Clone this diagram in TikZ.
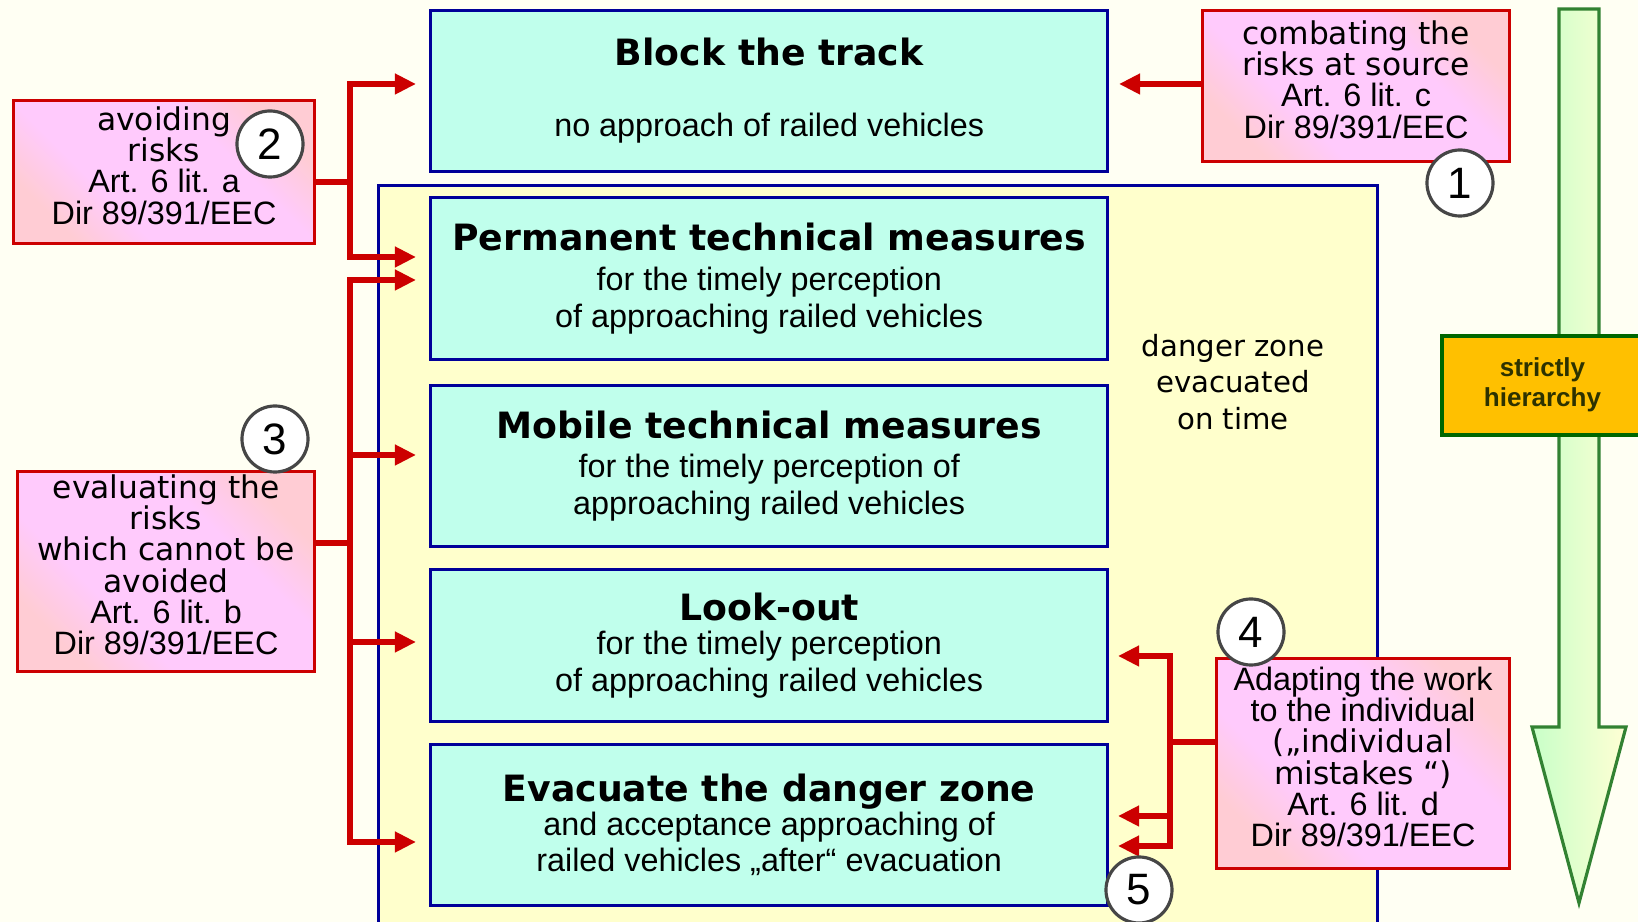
\documentclass[tikz,border=0pt]{standalone}
\usepackage{fontspec}
\setmainfont{Liberation Sans}
\newfontfamily\verd{DejaVu Sans}
\usepackage{tikz}
\usetikzlibrary{arrows.meta}
\definecolor{pagebg}{RGB}{255,255,243}
\definecolor{boxblue}{RGB}{0,0,153}
\definecolor{boxcyan}{RGB}{192,255,236}
\definecolor{zoneyellow}{RGB}{255,255,204}
\definecolor{riskred}{RGB}{204,0,0}
\definecolor{riskpink}{RGB}{255,202,252}
\definecolor{risksalmon}{RGB}{255,204,212}
\definecolor{circgray}{RGB}{70,70,70}
\definecolor{hierorange}{RGB}{255,192,0}
\definecolor{hiergreen}{RGB}{0,102,0}
\definecolor{hiertext}{RGB}{45,50,0}
\definecolor{arrowgreen}{RGB}{50,130,50}
\definecolor{arrowleft}{RGB}{200,255,200}
\definecolor{arrowright}{RGB}{255,255,212}
\pgfdeclarehorizontalshading{riskshade}{100bp}{color(0bp)=(risksalmon); color(25bp)=(risksalmon); color(37bp)=(riskpink); color(63bp)=(riskpink); color(75bp)=(risksalmon); color(100bp)=(risksalmon)}
\newcommand{\boxtitle}[1]{{\verd\bfseries\fontsize{10.3}{12}\selectfont #1}}
\newcommand{\vl}[1]{{\verd\fontsize{8.9}{8.9}\selectfont #1}}
\newcommand{\riskfont}{\fontsize{9.2}{8.9}\selectfont\lineskiplimit=-10pt\relax}
\tikzstyle{zonebox} = [draw=boxblue, line width=0.85pt, fill=zoneyellow, anchor=north west, minimum width=9.98cm, minimum height=8cm, inner sep=0pt]
\tikzstyle{bluebox} = [draw=boxblue, line width=0.85pt, fill=boxcyan, anchor=north west, minimum width=6.77cm, inner sep=0pt, align=center, font=\fontsize{9.2}{10.4}\selectfont]
\tikzstyle{riskbox} = [draw=riskred, line width=0.85pt, shade, shading=riskshade, shading angle=45, anchor=north west, inner sep=0pt, text depth=3.9pt, align=center, font=\riskfont]
\tikzstyle{numcirc} = [circle, draw=circgray, line width=0.9pt, fill=white, minimum size=0.66cm, inner sep=0pt, font=\fontsize{12.5}{12.5}\selectfont]
\tikzstyle{redline} = [riskred, line width=1.9pt]
\tikzstyle{redarrow} = [redline, -{Triangle[length=6pt,width=5.6pt]}]

\begin{document}
\begin{tikzpicture}[x=0.01cm, y=-0.01cm]
      \useasboundingbox (0,0) rectangle (1638,922);
      \fill[pagebg] (0,0) rectangle (1638,922);
      \clip (0,0) rectangle (1638,922);
      %%%%%%%%%%%%%%%%%%%%%%%%%%%%%%%%%%%%%%%
      \draw (377,184) node (zone) [zonebox] {};
      \draw (1233,382) node (zonetext) [align=center, font=\verd\fontsize{8.3}{10.3}\selectfont] {danger zone\\evacuated\\on time};
      %%%%%%%%%%%%%%%%%%%%%%%%%%%%%%%%%%%%%%%
      \draw (429,9) node (block) [bluebox, minimum height=1.61cm] {\boxtitle{Block the track}\\[9.8pt]no approach of railed vehicles};
      \draw (429,196) node (perm) [bluebox, minimum height=1.62cm] {\boxtitle{Permanent technical measures}\\[1pt]for the timely perception\\of approaching railed vehicles};
      \draw (429,384) node (mobile) [bluebox, minimum height=1.61cm] {\boxtitle{Mobile technical measures}\\[0.6pt]for the timely perception of\\approaching railed vehicles};
      \draw (429,568) node (lookout) [bluebox, minimum height=1.52cm] {\boxtitle{Look-out}\\[-0.8pt]for the timely perception\\of approaching railed vehicles};
      \draw (429,743) node (evac) [bluebox, minimum height=1.61cm] {\boxtitle{Evacuate the danger zone}\\[-0.8pt]and acceptance approaching of\\railed vehicles „after“ evacuation};
      %%%%%%%%%%%%%%%%%%%%%%%%%%%%%%%%%%%%%%%
      \coordinate (tk) at (1119,84);
      \coordinate (ja) at (350,182);
      \coordinate (ta1) at (416,84);
      \coordinate (ta2) at (416,257);
      \coordinate (jb) at (350,543);
      \coordinate (tb1) at (416,280);
      \coordinate (tb2) at (416,455);
      \coordinate (tb3) at (416,642);
      \coordinate (tb4) at (416,842);
      \coordinate (jc) at (1170,742);
      \coordinate (tc1) at (1118,656);
      \coordinate (tc2) at (1118,816);
      \coordinate (tc3) at (1118,846);
      %%%%%%%%%%%%%%%%%%%%%%%%%%%%%%%%%%%%%%%
      \draw (1201,9) node (combat) [riskbox, minimum width=3.07cm, minimum height=1.51cm] {\vl{combating the}\\\vl{risks at source}\\Art. 6 lit. c\\Dir 89/391/EEC};
      \draw (12,99) node (avoid) [riskbox, minimum width=3.01cm, minimum height=1.43cm] {\vl{avoiding}\\\vl{risks}\\Art. 6 lit. a\\Dir 89/391/EEC};
      \draw (16,470) node (evaluate) [riskbox, minimum width=2.97cm, minimum height=2cm] {\vl{evaluating the}\\\vl{risks}\\\vl{which cannot be}\\\vl{avoided}\\Art. 6 lit. b\\Dir 89/391/EEC};
      \draw (1215,657) node (adapt) [riskbox, minimum width=2.93cm, minimum height=2.1cm] {Adapting the work\\to the individual\\\vl{(„individual}\\\vl{mistakes “)}\\Art. 6 lit. d\\Dir 89/391/EEC};
      %%%%%%%%%%%%%%%%%%%%%%%%%%%%%%%%%%%%%%%
      \draw[redarrow] (combat.west |- tk) -- (tk);
      \draw[redline] (avoid.east |- ja) -- (ja);
      \draw[redarrow] (ja) |- (ta1);
      \draw[redarrow] (ja) |- (ta2);
      \draw[redline] (evaluate.east |- jb) -- (jb);
      \draw[redarrow] (jb) |- (tb1);
      \draw[redarrow] (jb) |- (tb2);
      \draw[redarrow] (jb) |- (tb3);
      \draw[redarrow] (jb) |- (tb4);
      \draw[redline] (adapt.west |- jc) -- (jc);
      \draw[redarrow] (jc) |- (tc1);
      \draw[redarrow] (jc) |- (tc2);
      \draw[redarrow] (jc) |- (tc3);
      %%%%%%%%%%%%%%%%%%%%%%%%%%%%%%%%%%%%%%%
      \draw (1460,183) node (c1) [numcirc] {1};
      \draw (270,144) node (c2) [numcirc] {2};
      \draw (275,439) node (c3) [numcirc] {3};
      \draw (1251,632) node (c4) [numcirc] {4};
      \draw (1139,890) node (c5) [numcirc] {5};
      %%%%%%%%%%%%%%%%%%%%%%%%%%%%%%%%%%%%%%%
      \draw[arrowgreen, line width=0.9pt, left color=arrowleft, right color=arrowright] (1559,9) -- (1599,9) -- (1599,727) -- (1626,727) -- (1579,903) -- (1532,727) -- (1559,727) -- cycle;
      \draw (1440,334) node (hier) [draw=hiergreen, line width=1.1pt, fill=hierorange, anchor=north west, minimum width=2.01cm, minimum height=0.99cm, inner sep=0pt, text depth=2pt, align=center, text=hiertext, font=\bfseries\fontsize{7.4}{8.5}\selectfont] {strictly\\hierarchy};
\end{tikzpicture}
\end{document}
